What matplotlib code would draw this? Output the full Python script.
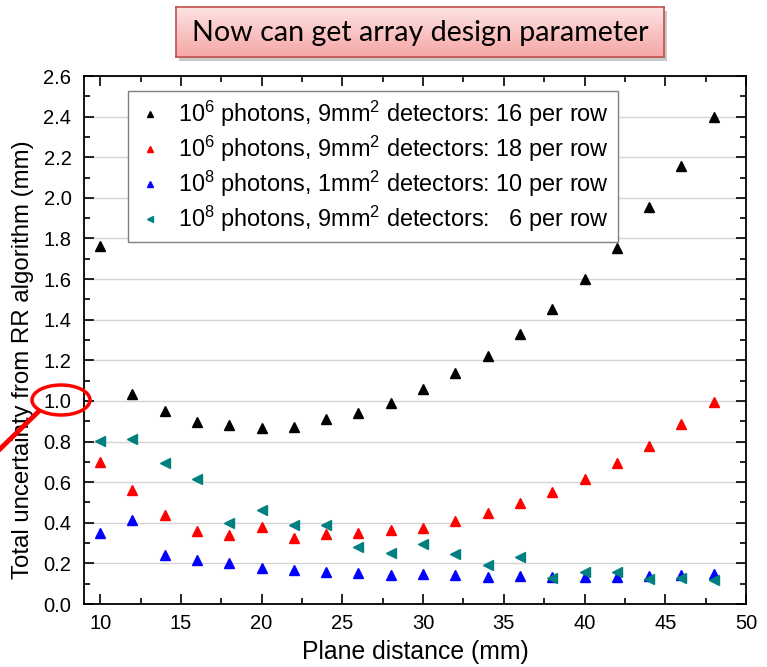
import matplotlib
matplotlib.use("Agg")
import matplotlib.pyplot as plt
import numpy as np
from matplotlib.patches import Ellipse, Rectangle
from matplotlib.lines import Line2D
from matplotlib.colors import LinearSegmentedColormap

plt.rcParams['font.family'] = ['Liberation Sans', 'DejaVu Sans']
plt.rcParams['mathtext.fontset'] = 'custom'
plt.rcParams['mathtext.rm'] = 'Liberation Sans'
plt.rcParams['mathtext.it'] = 'Liberation Sans'

# plane distance (mm)
dist = [10, 12, 14, 16, 18, 20, 22, 24, 26, 28, 30, 32, 34, 36, 38, 40, 42, 44, 46, 48]

# total uncertainty (mm) per configuration
unc_1e6_9mm_16 = [1.765, 1.035, 0.951, 0.895, 0.88, 0.865, 0.873, 0.913, 0.939, 0.99,
                  1.058, 1.138, 1.223, 1.33, 1.453, 1.598, 1.755, 1.957, 2.158, 2.40]
unc_1e6_9mm_18 = [0.70, 0.561, 0.438, 0.361, 0.34, 0.378, 0.325, 0.343, 0.351, 0.364,
                  0.376, 0.41, 0.45, 0.496, 0.553, 0.616, 0.696, 0.78, 0.887, 0.997]
unc_1e8_1mm_10 = [0.348, 0.414, 0.243, 0.217, 0.20, 0.179, 0.167, 0.159, 0.154, 0.143,
                  0.146, 0.141, 0.134, 0.138, 0.131, 0.134, 0.134, 0.138, 0.141, 0.146]
unc_1e8_9mm_6 = [0.803, 0.811, 0.693, 0.617, 0.40, 0.463, 0.388, 0.389, 0.282, 0.25,
                 0.294, 0.246, 0.19, 0.233, 0.13, 0.156, 0.156, 0.125, 0.13, 0.118]

labels = [r"10$^6$ photons, 9mm$^2$ detectors: 16 per row",
          r"10$^6$ photons, 9mm$^2$ detectors: 18 per row",
          r"10$^8$ photons, 1mm$^2$ detectors: 10 per row",
          r"10$^8$ photons, 9mm$^2$ detectors:   6 per row"]

W, H = 767, 667
fig = plt.figure(figsize=(W / 100, H / 100), dpi=100)
ax = fig.add_axes([84 / W, 1 - 604 / H, (746 - 84) / W, (604 - 76) / H])

ax.plot(dist, unc_1e6_9mm_16, ls='none', marker='^', ms=6.5, color='black', label=labels[0])
ax.plot(dist, unc_1e6_9mm_18, ls='none', marker='^', ms=6.5, color='#ff0000', label=labels[1])
ax.plot(dist, unc_1e8_1mm_10, ls='none', marker='^', ms=6.5, color='#0000ff', label=labels[2])
ax.plot(dist, unc_1e8_9mm_6, ls='none', marker='<', ms=6.5, color='#008080', label=labels[3])

ax.set_xlim(9, 50)
ax.set_ylim(0, 2.6)
ax.set_xticks(np.arange(10, 51, 5))
ax.set_xticks(np.arange(12.5, 50, 5), minor=True)
ax.set_yticks(np.arange(0, 2.61, 0.2))
ax.set_yticks(np.arange(0.1, 2.6, 0.2), minor=True)
ax.set_yticklabels(["%.1f" % v for v in np.arange(0, 2.61, 0.2)])
ax.yaxis.grid(True, color='#d4d4d4', lw=1.0)
ax.set_axisbelow(True)
ax.tick_params(which='both', direction='in', top=True, right=True, labelsize=14.5, width=1.2)
ax.tick_params(which='major', length=7)
ax.tick_params(which='minor', length=4)
ax.tick_params(axis='y', which='major', pad=9)
ax.tick_params(axis='x', which='major', pad=7)
for s in ax.spines.values():
    s.set_linewidth(1.3)

ax.set_xlabel("Plane distance (mm)", fontsize=17.8)
ax.set_ylabel("Total uncertainty from RR algorithm (mm)", fontsize=17.3)
ax.xaxis.set_label_coords(0.5, -0.068)
ax.yaxis.set_label_coords(-0.076, 0.463)

leg = ax.legend(loc='upper left', bbox_to_anchor=(0.0665, 0.972), borderaxespad=0,
                fontsize=16.9, numpoints=1, markerscale=0.7, fancybox=False,
                edgecolor='#808080', framealpha=1, handlelength=1.2,
                handletextpad=0.6, labelspacing=0.2, borderpad=0.35)
leg.get_frame().set_linewidth(1.0)

# title box with pink gradient and shadow
bx0, by0, bx1, by1 = 176, 7, 664, 57
shadow = Rectangle(((bx0 + 3) / W, 1 - (by1 + 4) / H), (bx1 - bx0) / W, (by1 - by0) / H,
                   transform=fig.transFigure, facecolor='#c8c8c8', edgecolor='none', zorder=1)
fig.patches.append(shadow)
tax = fig.add_axes([bx0 / W, 1 - by1 / H, (bx1 - bx0) / W, (by1 - by0) / H], zorder=2)
grad = np.linspace(0, 1, 100).reshape(-1, 1)
cmap = LinearSegmentedColormap.from_list('pink', ['#fde3e3', '#f6a6a6'])
tax.imshow(grad, aspect='auto', cmap=cmap, extent=[0, 1, 0, 1], origin='upper')
tax.set_xticks([])
tax.set_yticks([])
for s in tax.spines.values():
    s.set_color('#c0504d')
    s.set_linewidth(1.2)
tax.text(0.5, 0.48, "Now can get array design parameter", ha='center', va='center',
         fontsize=20.6, family=['Lato', 'DejaVu Sans'], color='black', transform=tax.transAxes)

# red annotation around the 1.0 tick label
ell = Ellipse((61 / W, 1 - 400 / H), 58 / W, 30 / H, transform=fig.transFigure,
              fill=False, edgecolor='#ff0000', lw=2.5, zorder=5)
fig.patches.append(ell)
fig.lines.append(Line2D([0 / W, 38 / W], [1 - 449 / H, 1 - 412 / H], transform=fig.transFigure,
                        color='#ff0000', lw=3.5, zorder=5))

fig.savefig("out.png", dpi=100)
